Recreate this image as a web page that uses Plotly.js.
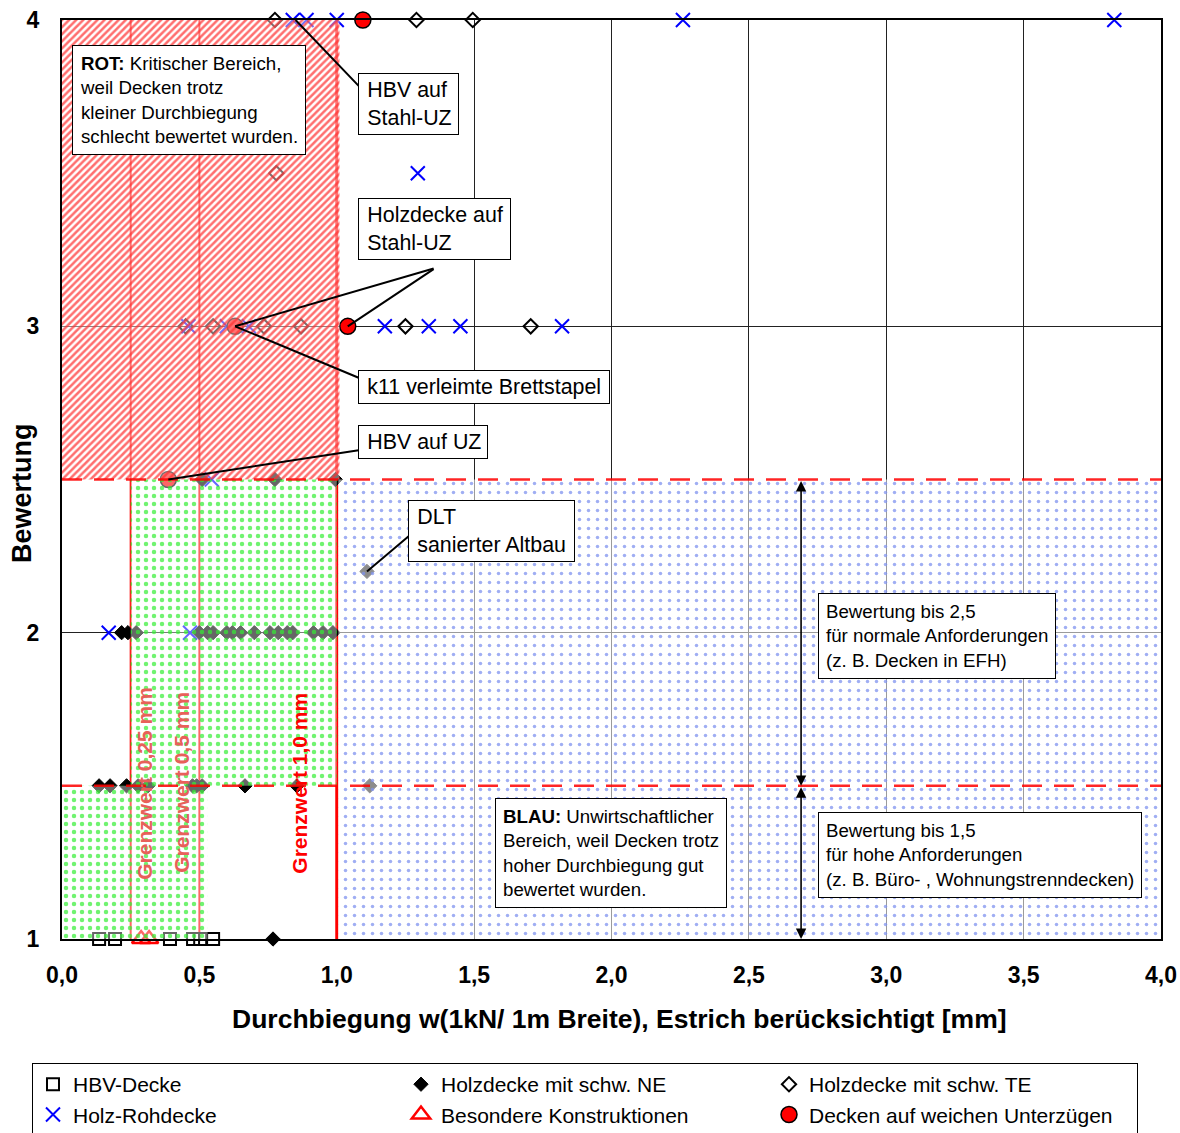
<!DOCTYPE html>
<html>
<head>
<meta charset="utf-8">
<script src="https://cdn.plot.ly/plotly-3.0.1.min.js"></script>
<style>
  body { margin: 0; background: #fff; }
  #chart { width: 1180px; height: 1133px; }
</style>
</head>
<body>
<div id="chart"></div>
<script>
// values
var hbvX = [0.135, 0.193, 0.393, 0.477, 0.503, 0.55];
var hbvY = [1, 1, 1, 1, 1, 1];

var neX = [0.51, 0.775, 0.995,
  0.217, 0.24, 0.27, 0.50, 0.53, 0.55, 0.60, 0.62, 0.65, 0.70, 0.757, 0.787, 0.82, 0.84, 0.915, 0.95, 0.986,
  0.135, 0.175, 0.235, 0.277, 0.313, 0.475, 0.49, 0.51, 0.666, 0.855, 1.12,
  0.768, 1.11];
var neY = [2.5, 2.5, 2.5,
  2, 2, 2, 2, 2, 2, 2, 2, 2, 2, 2, 2, 2, 2, 2, 2, 2,
  1.5, 1.5, 1.5, 1.5, 1.5, 1.5, 1.5, 1.5, 1.5, 1.5, 1.5,
  1, 2.2];

var teX = [0.775, 1.29, 1.495, 0.78, 0.45, 0.55, 0.735, 0.87, 1.25, 1.706];
var teY = [4, 4, 4, 3.5, 3, 3, 3, 3, 3, 3];

var rohX = [0.84, 0.89, 1.0, 2.26, 3.83, 1.295, 0.46, 0.60, 0.68, 1.175, 1.335, 1.45, 1.82, 0.545, 0.17, 0.466];
var rohY = [4, 4, 4, 4, 4, 3.5, 3, 3, 3, 3, 3, 3, 3, 2.5, 2, 2];

var besX = [0.288, 0.317];
var besY = [1, 1];

var uzX = [1.095, 0.63, 1.04, 0.387];
var uzY = [4, 3, 3, 2.5];

// limits and zones
var grenzwerte = [0.25, 0.5, 1.0];
var grenzLabels = ['Grenzwert 0,25 mm', 'Grenzwert 0,5 mm', 'Grenzwert 1,0 mm'];
var bewertungsGrenzen = [1.5, 2.5];

var rotZoneX = [0, 1.01, 1.01, 0, 0];
var rotZoneY = [2.5, 2.5, 4, 4, 2.5];
var gruenZoneX = [0, 0.53, 0.53, 1.0, 1.0, 0.25, 0.25, 0, 0];
var gruenZoneY = [1, 1, 1.5, 1.5, 2.5, 2.5, 1.5, 1.5, 1];
var blauZoneX = [1.006, 4, 4, 1.006, 1.006];
var blauZoneY = [1, 1, 2.5, 2.5, 1];

var FONT = 'Liberation Sans, Arial, sans-serif';
var TS = '\u2009';

function markerTrace(name, x, y, marker) {
  return {
    x: x, y: y, name: name,
    type: 'scatter', mode: 'markers',
    marker: marker,
    cliponaxis: false,
    hoverinfo: 'x+y'
  };
}

function zoneTrace(x, y, pattern) {
  return {
    x: x, y: y,
    type: 'scatter', mode: 'none',
    fill: 'toself',
    fillcolor: 'rgba(0,0,0,0)',
    fillpattern: pattern,
    showlegend: false,
    hoverinfo: 'skip'
  };
}

var traces = [
  markerTrace('HBV-Decke', hbvX, hbvY, {symbol: 'square-open', size: 12, color: '#000', line: {width: 2, color: '#000'}}),
  markerTrace('Holzdecke mit schw. NE', neX, neY, {symbol: 'diamond', size: 11, color: '#000', line: {width: 1, color: '#000'}}),
  markerTrace('Holzdecke mit schw. TE', teX, teY, {symbol: 'diamond-open', size: 11, color: '#000', line: {width: 2, color: '#000'}}),
  markerTrace('Holz-Rohdecke', rohX, rohY, {symbol: 'x-thin-open', size: 14, color: '#0000ff', line: {width: 2, color: '#0000ff'}}),
  markerTrace('Besondere Konstruktionen', besX, besY, {symbol: 'triangle-up-open', size: 16, color: '#ff0000', line: {width: 2.5, color: '#ff0000'}}),
  markerTrace('Decken auf weichen Unterzügen', uzX, uzY, {symbol: 'circle', size: 16, color: '#ff0000', line: {width: 1.5, color: '#000'}}),
  // hatched zones lie over the markers
  zoneTrace(rotZoneX, rotZoneY, {shape: '/', size: 5, solidity: 0.5, fgcolor: '#ff3030', fgopacity: 0.7, bgcolor: 'rgba(255,255,255,0.45)'}),
  zoneTrace(gruenZoneX, gruenZoneY, {shape: '.', size: 8, solidity: 0.25, fgcolor: '#33ee33', fgopacity: 0.7, bgcolor: 'rgba(255,255,255,0.4)'}),
  zoneTrace(blauZoneX, blauZoneY, {shape: '.', size: 9, solidity: 0.12, fgcolor: '#8093ee', fgopacity: 0.75, bgcolor: 'rgba(255,255,255,0.55)'})
];

var shapes = [];
grenzwerte.forEach(function(g, i) {
  shapes.push({
    type: 'line', xref: 'x', yref: 'y', layer: 'between',
    x0: g, x1: g, y0: 1, y1: 4,
    line: {color: '#ff0000', width: i == 2 ? 3 : 2}
  });
});
bewertungsGrenzen.forEach(function(b) {
  shapes.push({
    type: 'line', xref: 'x', yref: 'y', layer: 'above', opacity: 0.85,
    x0: 0, x1: 4, y0: b, y1: b,
    line: {color: '#ff0000', width: 2.5, dash: '20px,12px'}
  });
});

function box(text, x, y) {
  return {
    text: text, x: x, y: y, xref: 'x', yref: 'y',
    xanchor: 'left', yanchor: 'top', align: 'left',
    showarrow: false,
    bgcolor: '#fff', bordercolor: '#000', borderwidth: 1, borderpad: 7,
    font: {family: FONT, size: 18.7, color: '#000'}
  };
}

// callout labels: bigger font, tight padding, fixed width
function callout(lines, x, y, width) {
  var a = box(lines.map(function(l) { return TS + l; }).join('<br>'), x, y);
  a.font.size = 21.4;
  a.borderpad = 4;
  a.width = width;
  return a;
}

function pointer(x, y, ax, ay) {
  return {
    text: '', x: x, y: y, ax: ax, ay: ay,
    xref: 'x', yref: 'y', axref: 'x', ayref: 'y',
    showarrow: true, arrowhead: 0, arrowwidth: 2, arrowcolor: '#000',
    standoff: 0, startstandoff: 0
  };
}

function doubleArrow(x, y0, y1) {
  return {
    text: '', x: x, y: y1, ax: x, ay: y0,
    xref: 'x', yref: 'y', axref: 'x', ayref: 'y',
    showarrow: true, arrowhead: 2, arrowside: 'end+start',
    arrowsize: 1.3, arrowwidth: 1.6, arrowcolor: '#000'
  };
}

var annotations = [
  pointer(0.85, 4, 1.085, 3.78),
  pointer(0.63, 3, 1.358, 3.19),
  pointer(1.04, 3, 1.358, 3.19),
  pointer(0.63, 3, 1.085, 2.83),
  pointer(0.387, 2.5, 1.085, 2.596),
  pointer(1.11, 2.2, 1.267, 2.319),
  doubleArrow(2.69, 2.5, 1.5),
  doubleArrow(2.69, 1.5, 1.0),
  box('<b>ROT:</b> Kritischer Bereich,<br>weil Decken trotz<br>kleiner Durchbiegung<br>schlecht bewertet wurden.', 0.036, 3.918),
  callout(['HBV auf', 'Stahl-UZ'], 1.077, 3.827, 91),
  callout(['Holzdecke auf', 'Stahl-UZ'], 1.077, 3.419, 143),
  callout(['k11 verleimte Brettstapel'], 1.077, 2.857, 242),
  callout(['HBV auf UZ'], 1.077, 2.678, 120),
  callout(['DLT', 'sanierter Altbau'], 1.259, 2.433, 157),
  box('Bewertung bis 2,5<br>für normale Anforderungen<br>(z. B. Decken in EFH)', 2.752, 2.13),
  box('Bewertung bis 1,5<br>für hohe Anforderungen<br>(z. B. Büro- , Wohnungstrenndecken)', 2.752, 1.415),
  box('<b>BLAU:</b> Unwirtschaftlicher<br>Bereich, weil Decken trotz<br>hoher Durchbiegung gut<br>bewertet wurden.', 1.576, 1.46),
  // axis titles
  {text: '<b>Durchbiegung w(1kN/ 1m Breite), Estrich berücksichtigt [mm]</b>', xref: 'paper', yref: 'paper',
   x: 0.5073, y: -0.087, xanchor: 'center', yanchor: 'middle', showarrow: false,
   font: {family: FONT, size: 26.5, color: '#000'}},
  {text: '<b>Bewertung</b>', xref: 'paper', yref: 'paper', textangle: -90,
   x: -0.0364, y: 0.4853, xanchor: 'center', yanchor: 'middle', showarrow: false,
   font: {family: FONT, size: 27, color: '#000'}}
];

var labelX = [0.302, 0.437, 0.866];
grenzLabels.forEach(function(t, i) {
  annotations.push({
    text: '<b>' + t + '</b>', x: labelX[i], y: 1.51, xref: 'x', yref: 'y',
    showarrow: false, textangle: -90,
    font: {family: FONT, size: 21, color: i == 2 ? '#ff0000' : '#e8605a'}
  });
});

var layout = {
  width: 1180, height: 1133,
  margin: {l: 62, r: 19, t: 20, b: 194, autoexpand: false},
  paper_bgcolor: '#fff', plot_bgcolor: '#fff',
  separators: ',.',
  font: {family: FONT, color: '#000'},
  showlegend: true,
  xaxis: {
    range: [0, 4], dtick: 0.5, tickformat: '.1f',
    showgrid: true, gridcolor: '#222', gridwidth: 1,
    showline: true, mirror: true, linecolor: '#000', linewidth: 2,
    zeroline: false, ticks: '', ticklabelstandoff: 14,
    tickfont: {family: FONT, size: 23, weight: 'bold'}
  },
  yaxis: {
    range: [1, 4], dtick: 1,
    showgrid: true, gridcolor: '#222', gridwidth: 1,
    showline: true, mirror: true, linecolor: '#000', linewidth: 2,
    zeroline: false, ticks: '', ticklabelstandoff: 16,
    tickfont: {family: FONT, size: 23, weight: 'bold'}
  },
  legend: {
    orientation: 'h', x: -0.0273, y: -0.135, xanchor: 'left', yanchor: 'top',
    bordercolor: '#000', borderwidth: 1, bgcolor: '#fff',
    entrywidth: 323, entrywidthmode: 'pixels',
    font: {family: FONT, size: 21, color: '#000'}
  },
  shapes: shapes,
  annotations: annotations
};

Plotly.newPlot('chart', traces, layout, {displayModeBar: false, staticPlot: true});
</script>
</body>
</html>
